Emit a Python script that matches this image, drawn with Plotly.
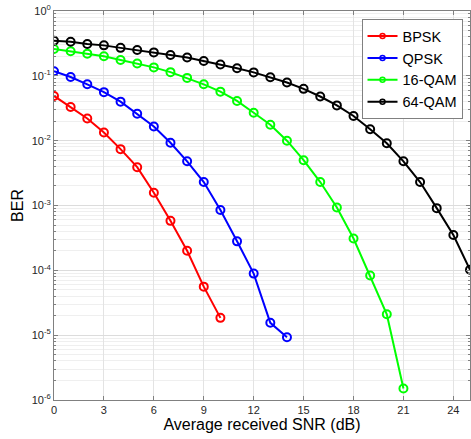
import plotly.graph_objects as go

snr = list(range(0, 26))

bpsk = [0.049, 0.033, 0.022, 0.0134, 0.0074, 0.0039, 0.00157, 0.00058, 0.0002, 5.6e-5, 1.85e-5]
qpsk = [0.118, 0.096, 0.074, 0.056, 0.040, 0.026, 0.0165, 0.0093, 0.0048, 0.0023, 0.00085,
        0.00028, 8.9e-5, 1.55e-5, 9.3e-6]
qam16 = [0.26, 0.24, 0.22, 0.20, 0.176, 0.155, 0.135, 0.114, 0.093, 0.074, 0.057, 0.041,
         0.027, 0.0176, 0.010, 0.005, 0.0023, 0.00093, 0.00031, 8.3e-5, 2.1e-5, 1.5e-6]
qam64 = [0.347, 0.335, 0.31, 0.295, 0.27, 0.25, 0.23, 0.21, 0.192, 0.169, 0.150, 0.131,
         0.113, 0.095, 0.079, 0.063, 0.048, 0.035, 0.024, 0.015, 0.0091, 0.0048, 0.0023,
         0.00091, 0.00035, 0.000102]

xticks = [0, 3, 6, 9, 12, 15, 18, 21, 24]
yticks = [1e-6, 1e-5, 1e-4, 1e-3, 1e-2, 1e-1, 1e0]
yticktext = ["10<sup>-6</sup>", "10<sup>-5</sup>", "10<sup>-4</sup>", "10<sup>-3</sup>",
             "10<sup>-2</sup>", "10<sup>-1</sup>", "10<sup>0</sup>"]

series = [("BPSK", bpsk, "#ff0000"), ("QPSK", qpsk, "#0000ff"),
          ("16-QAM", qam16, "#00ff00"), ("64-QAM", qam64, "#000000")]

fig = go.Figure()
for name, vals, col in series:
    fig.add_trace(go.Scatter(
        x=snr[:len(vals)], y=vals, name=name, mode="lines+markers", showlegend=False,
        line=dict(color=col, width=2),
        marker=dict(symbol="circle-open", size=8, color=col, line=dict(width=2)),
    ))
# legend entries with the small markers matlab draws
for name, vals, col in series:
    fig.add_trace(go.Scatter(
        x=[None], y=[None], name=name, mode="lines+markers",
        line=dict(color=col, width=2),
        marker=dict(symbol="circle-open", size=5, color=col, line=dict(width=1.5)),
    ))

axcol = "#808080"
fig.update_layout(
    width=471, height=439,
    margin=dict(l=54, r=1, t=11, b=39),
    paper_bgcolor="white", plot_bgcolor="white",
    font=dict(family="Liberation Sans, Arial", color="#262626", size=11),
    legend=dict(x=0.982, y=0.979, xanchor="right", yanchor="top",
                bgcolor="white", bordercolor="#808080", borderwidth=1,
                font=dict(size=14.5, color="#000000"),
                itemwidth=30, tracegroupgap=0),
)
fig.update_xaxes(
    range=[0, 25], tickvals=xticks,
    showline=True, linecolor=axcol, linewidth=1, mirror="allticks",
    ticks="inside", ticklen=4, tickcolor=axcol,
    showgrid=True, gridcolor="#e3e3e3", gridwidth=1, zeroline=False,
    title=dict(text="Average received SNR (dB)", font=dict(size=16, color="#000000"), standoff=2),
)
fig.update_yaxes(
    type="log", range=[-6, 0], tickvals=yticks, ticktext=yticktext,
    showline=True, linecolor=axcol, linewidth=1, mirror="allticks",
    ticks="inside", ticklen=4, tickcolor=axcol,
    showgrid=True, gridcolor="#dcdcdc", gridwidth=1, zeroline=False,
    minor=dict(dtick="D1", ticks="inside", ticklen=2, tickcolor=axcol,
               showgrid=True, gridcolor="#efefef"),
    title=dict(text="BER", font=dict(size=16, color="#000000"), standoff=4),
)

fig.write_html("out.html", config={"displayModeBar": False},
               post_script="document.body.style.margin='0px';document.body.style.overflow='hidden';")
